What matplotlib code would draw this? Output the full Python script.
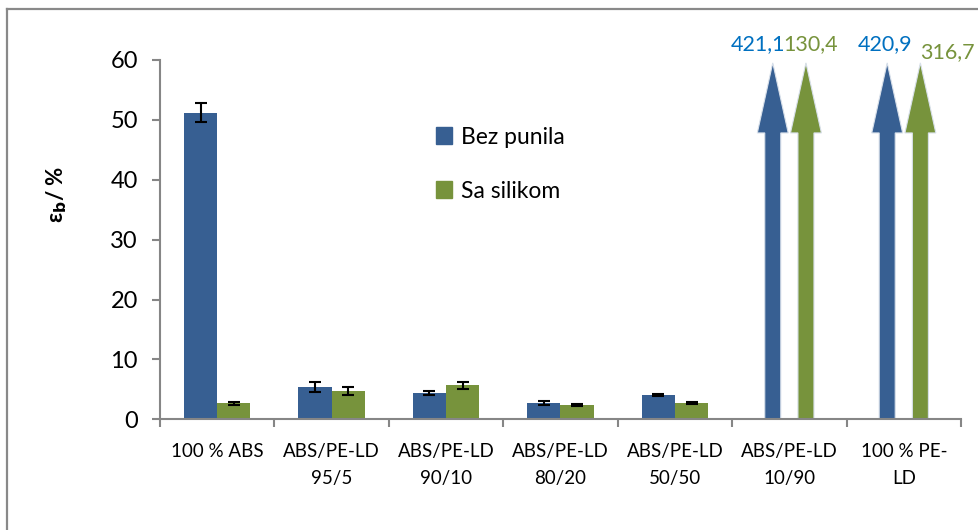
import matplotlib
matplotlib.use('Agg')
import numpy as np
import matplotlib.pyplot as plt
from matplotlib.patches import FancyArrow
from matplotlib.lines import Line2D

plt.rcParams['font.family'] = ['Lato', 'DejaVu Sans']

# Data
categories = ['100 % ABS', 'ABS/PE-LD\n95/5', 'ABS/PE-LD\n90/10', 'ABS/PE-LD\n80/20',
              'ABS/PE-LD\n50/50', 'ABS/PE-LD\n10/90', '100 % PE-\nLD']
bez_punila = [51.2, 5.4, 4.4, 2.7, 4.05, 421.1, 420.9]
bez_err = [1.6, 0.9, 0.35, 0.35, 0.15, 0, 0]
sa_silikom = [2.7, 4.7, 5.7, 2.4, 2.75, 130.4, 316.7]
sa_err = [0.25, 0.65, 0.6, 0.2, 0.15, 0, 0]

blue = '#375F92'
green = '#77933C'
blue_txt = '#0070C0'

fig = plt.figure(figsize=(9.79, 5.30), dpi=100)
ax = fig.add_axes([160 / 979, 110.7 / 530, 801 / 979, 359.3 / 530])

x = np.arange(len(categories))
ymax = 60
bw = 0.29
off_b, off_g = -0.145, 0.145

# normal bars for values that fit, arrows for the ones off the scale
fits_b = [v <= ymax for v in bez_punila]
fits_g = [v <= ymax for v in sa_silikom]
xb = x[fits_b] + off_b
xg = x[fits_g] + off_g
ax.bar(xb, np.array(bez_punila)[fits_b], bw, color=blue,
       yerr=np.array(bez_err)[fits_b], capsize=4.5, error_kw=dict(lw=1.5, capthick=1.5))
ax.bar(xg, np.array(sa_silikom)[fits_g], bw, color=green,
       yerr=np.array(sa_err)[fits_g], capsize=4.5, error_kw=dict(lw=1.5, capthick=1.5))

tip = ymax * 0.992
label_dx = [(-15, 5), (-2, 27)]   # pixel offsets for the labels of big values
label_dy = [(19, 19), (19, 11)]
k = 0
for i in range(len(categories)):
    pairs = [(bez_punila[i], off_b, blue, blue_txt), (sa_silikom[i], off_g, green, green)]
    if bez_punila[i] <= ymax and sa_silikom[i] <= ymax:
        continue
    for j, (val, off, col, tcol) in enumerate(pairs):
        ar = FancyArrow(x[i] + off, 0, 0, tip, width=0.14, head_width=0.27,
                        head_length=11.7, length_includes_head=True,
                        facecolor=col, edgecolor='#d8e0ea', lw=0.8)
        ax.add_patch(ar)
        ax.annotate(f'{val:.1f}'.replace('.', ','), (x[i] + off, tip),
                    xytext=(label_dx[k][j], label_dy[k][j]), textcoords='offset pixels',
                    ha='center', va='center', fontsize=15.5, color=tcol,
                    annotation_clip=False)
    k += 1

ax.set_xlim(-0.5, len(categories) - 0.5)
ax.set_ylim(0, ymax)
ax.set_yticks(np.arange(0, 61, 10))
ax.tick_params(axis='y', labelsize=17, length=6, width=1.5, color='#868686', pad=10)
ax.set_xticks(x)
ax.set_xticklabels(categories, fontsize=13.5, linespacing=1.75)
ax.tick_params(axis='x', which='major', length=0, pad=17)
ax.set_xticks(np.arange(-0.5, len(categories)), minor=True)
ax.tick_params(axis='x', which='minor', length=6, width=1.5, color='#868686')

for s in ['top', 'right']:
    ax.spines[s].set_visible(False)
for s in ['left', 'bottom']:
    ax.spines[s].set_color('#868686')
    ax.spines[s].set_linewidth(1.5)

ax.set_ylabel('ε$_{\\mathbf{b}}$/ %', fontsize=16, fontweight='bold')
ax.yaxis.set_label_coords(-0.113, 0.625)

handles = [plt.Rectangle((0, 0), 1, 1, color=blue), plt.Rectangle((0, 0), 1, 1, color=green)]
ax.legend(handles, ['Bez punila', 'Sa silikom'], loc='upper left',
          bbox_to_anchor=((415 - 160) / 801, (419.3 - 106) / 359.3),
          frameon=False, fontsize=16.5, labelspacing=1.45, handlelength=0.7,
          handleheight=0.75, handletextpad=0.4)

# outer chart border (left and top edges visible)
fig.add_artist(Line2D([7 / 979, 7 / 979], [0, 1 - 9 / 530], color='#898989', lw=1.6))
fig.add_artist(Line2D([7 / 979, 1], [1 - 9 / 530, 1 - 9 / 530], color='#898989', lw=1.6))

fig.savefig('out.png', dpi=100)
